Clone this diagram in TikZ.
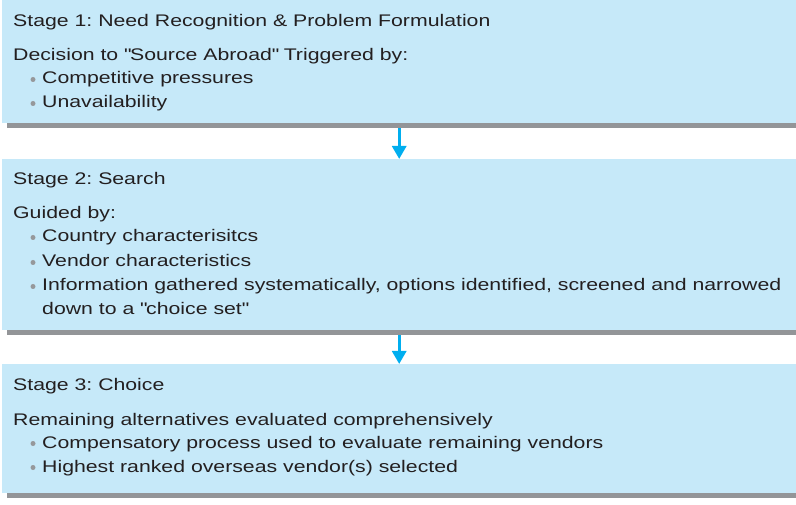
\documentclass[tikz,border=0pt]{standalone}
\usepackage{fontspec}
\setmainfont{Liberation Sans}[FakeStretch=1.265]
\usetikzlibrary{arrows.meta}
\definecolor{boxblue}{RGB}{198,233,249}
\definecolor{shade}{RGB}{147,149,152}
\definecolor{arrowblue}{RGB}{0,174,239}
\definecolor{txt}{RGB}{35,31,32}
\definecolor{dotgray}{RGB}{150,152,155}
\frenchspacing
\begin{document}
\begin{tikzpicture}[x=1pt,y=-1pt,
  stagebox/.style={fill=boxblue, draw=none, inner sep=0pt, anchor=north west, minimum width=794pt},
  shadowbar/.style={fill=shade, draw=none, inner sep=0pt, anchor=north west, minimum width=789pt, minimum height=5pt},
  line/.style={anchor=base west, inner sep=0pt, font=\fontsize{16.8}{20}\selectfont, text=txt},
  bul/.style={fill=dotgray, draw=none, circle, minimum size=5pt, inner sep=0pt},
  flow/.style={draw=arrowblue, line width=3pt, -{Triangle[width=14pt,length=13pt]}}]
\useasboundingbox (0,0) rectangle (796,505);
% boxes
\node[stagebox, minimum height=123pt] (s1) at (2,0) {};
\node[shadowbar] (sh1) at (7,123) {};
\node[stagebox, minimum height=171pt] (s2) at (2,159) {};
\node[shadowbar] (sh2) at (7,330) {};
\node[stagebox, minimum height=129pt] (s3) at (2,364) {};
\node[shadowbar] (sh3) at (7,493) {};
% arrows
\draw[flow] (s1.south |- sh1.south) -- (s2.north);
\draw[flow] (s2.south |- sh2.south) -- (s3.north);
% stage 1
\node[line] (h1) at (13,27) {Stage 1: Need Recognition \& Problem Formulation};
\node[line] (d1) at (13,61) {Decision to \textquotedbl Source Abroad\textquotedbl\ Triggered by:};
\node[bul] (b11) at (33,79.5) {};
\node[line] (t11) at (42,84) {Competitive pressures};
\node[bul] (b12) at (33,103.5) {};
\node[line] (t12) at (42,108) {Unavailability};
% stage 2
\node[line] (h2) at (13,185) {Stage 2: Search};
\node[line] (d2) at (13,219) {Guided by:};
\node[bul] (b21) at (33,237.5) {};
\node[line] (t21) at (42,242) {Country characterisitcs};
\node[bul] (b22) at (33,262.5) {};
\node[line] (t22) at (42,267) {Vendor characteristics};
\node[bul] (b23) at (33,286.5) {};
\node[line] (t23) at (42,291) {Information gathered systematically, options identified, screened and narrowed};
\node[line] (t24) at (42,315) {down to a \textquotedbl choice set\textquotedbl};
% stage 3
\node[line] (h3) at (13,391) {Stage 3: Choice};
\node[line] (d3) at (13,425) {Remaining alternatives evaluated comprehensively};
\node[bul] (b31) at (33,443.5) {};
\node[line] (t31) at (42,448) {Compensatory process used to evaluate remaining vendors};
\node[bul] (b32) at (33,467.5) {};
\node[line] (t32) at (42,472) {Highest ranked overseas vendor(s) selected};
\end{tikzpicture}
\end{document}
